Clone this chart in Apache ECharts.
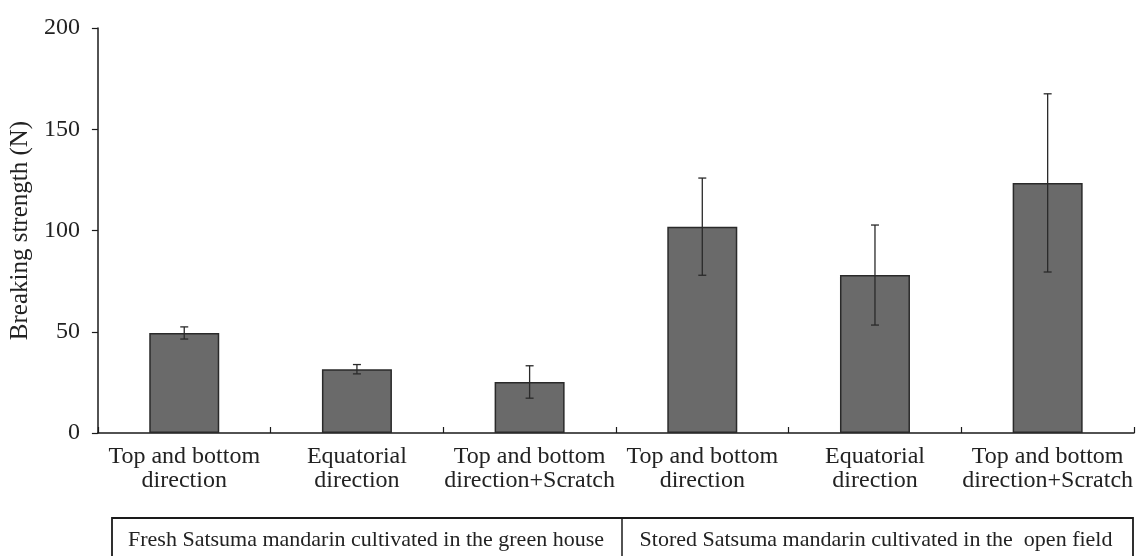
<!DOCTYPE html>
<html>
<head>
<meta charset="utf-8">
<script src="https://cdn.jsdelivr.net/npm/echarts@6/dist/echarts.min.js"></script>
<style>
  html, body { margin: 0; padding: 0; background: #fff; }
  #chart { width: 1141px; height: 556px; }
</style>
</head>
<body>
<div id="chart"></div>
<script>
// Breaking strength of Satsuma mandarin peel by loading direction
const categories = [
  'Top and bottom\ndirection',
  'Equatorial\ndirection',
  'Top and bottom\ndirection+Scratch',
  'Top and bottom\ndirection',
  'Equatorial\ndirection',
  'Top and bottom\ndirection+Scratch'
];
const meanStrength = [49.4, 31.5, 25.2, 101.9, 78.0, 123.5];
const stdDev = [3.0, 2.3, 8.0, 24.0, 24.7, 44.0];
const yAxisRange = { min: 0, max: 200, interval: 50 };
const groupLabels = [
  'Fresh Satsuma mandarin cultivated in the green house',
  'Stored Satsuma mandarin cultivated in the  open field'
];

const serif = '"Liberation Serif", "DejaVu Serif", serif';
const ink = '#1a1a1a';

const chart = echarts.init(document.getElementById('chart'), null, { renderer: 'canvas' });

const errorData = meanStrength.map((m, i) => [i, m - stdDev[i], m + stdDev[i]]);

const option = {
  backgroundColor: '#ffffff',
  animation: false,
  grid: { left: 96, right: 7, top: 28, bottom: 123, containLabel: false },
  xAxis: {
    type: 'category',
    data: categories,
    boundaryGap: true,
    axisLine: { lineStyle: { color: ink, width: 1.5 } },
    axisTick: { show: true, inside: true, length: 6, lineStyle: { color: ink, width: 1.2 } },
    axisLabel: {
      interval: 0,
      margin: 12,
      color: '#222',
      fontFamily: serif,
      fontSize: 24,
      lineHeight: 24,
      align: 'center'
    }
  },
  yAxis: {
    type: 'value',
    min: yAxisRange.min,
    max: yAxisRange.max,
    interval: yAxisRange.interval,
    name: 'Breaking strength (N)',
    nameLocation: 'middle',
    nameGap: 58,
    nameRotate: 90,
    nameTextStyle: { fontFamily: serif, fontSize: 25, color: '#222' },
    axisLine: { show: true, lineStyle: { color: ink, width: 1.5 } },
    axisTick: { show: true, inside: false, length: 6, lineStyle: { color: ink, width: 1.2 } },
    axisLabel: { margin: 18, color: '#222', fontFamily: serif, fontSize: 24 },
    splitLine: { show: false }
  },
  series: [
    {
      type: 'bar',
      data: meanStrength,
      barWidth: 70,
      itemStyle: { color: '#6a6a6a', borderColor: '#2a2a2a', borderWidth: 1.5 }
    },
    {
      type: 'custom',
      data: errorData,
      z: 10,
      renderItem: function (params, api) {
        const x = api.value(0);
        const lo = api.coord([x, api.value(1)]);
        const hi = api.coord([x, api.value(2)]);
        const cap = 4;
        const style = { stroke: '#2a2a2a', lineWidth: 1.3 };
        return {
          type: 'group',
          children: [
            { type: 'line', shape: { x1: hi[0], y1: hi[1], x2: lo[0], y2: lo[1] }, style: style },
            { type: 'line', shape: { x1: hi[0] - cap, y1: hi[1], x2: hi[0] + cap, y2: hi[1] }, style: style },
            { type: 'line', shape: { x1: lo[0] - cap, y1: lo[1], x2: lo[0] + cap, y2: lo[1] }, style: style }
          ]
        };
      }
    }
  ],
  graphic: [
    {
      type: 'rect',
      shape: { x: 112, y: 518, width: 1021, height: 60 },
      style: { fill: 'none', stroke: ink, lineWidth: 1.8 }
    },
    {
      type: 'line',
      shape: { x1: 622, y1: 518, x2: 622, y2: 556 },
      style: { stroke: ink, lineWidth: 1.5 }
    },
    {
      type: 'text',
      x: 366, y: 540,
      style: {
        text: groupLabels[0], fontFamily: serif, fontSize: 22, fill: '#222',
        textAlign: 'center', textVerticalAlign: 'middle'
      }
    },
    {
      type: 'text',
      x: 876, y: 540,
      style: {
        text: groupLabels[1], fontFamily: serif, fontSize: 22, fill: '#222',
        textAlign: 'center', textVerticalAlign: 'middle'
      }
    }
  ]
};

chart.setOption(option);
</script>
</body>
</html>
